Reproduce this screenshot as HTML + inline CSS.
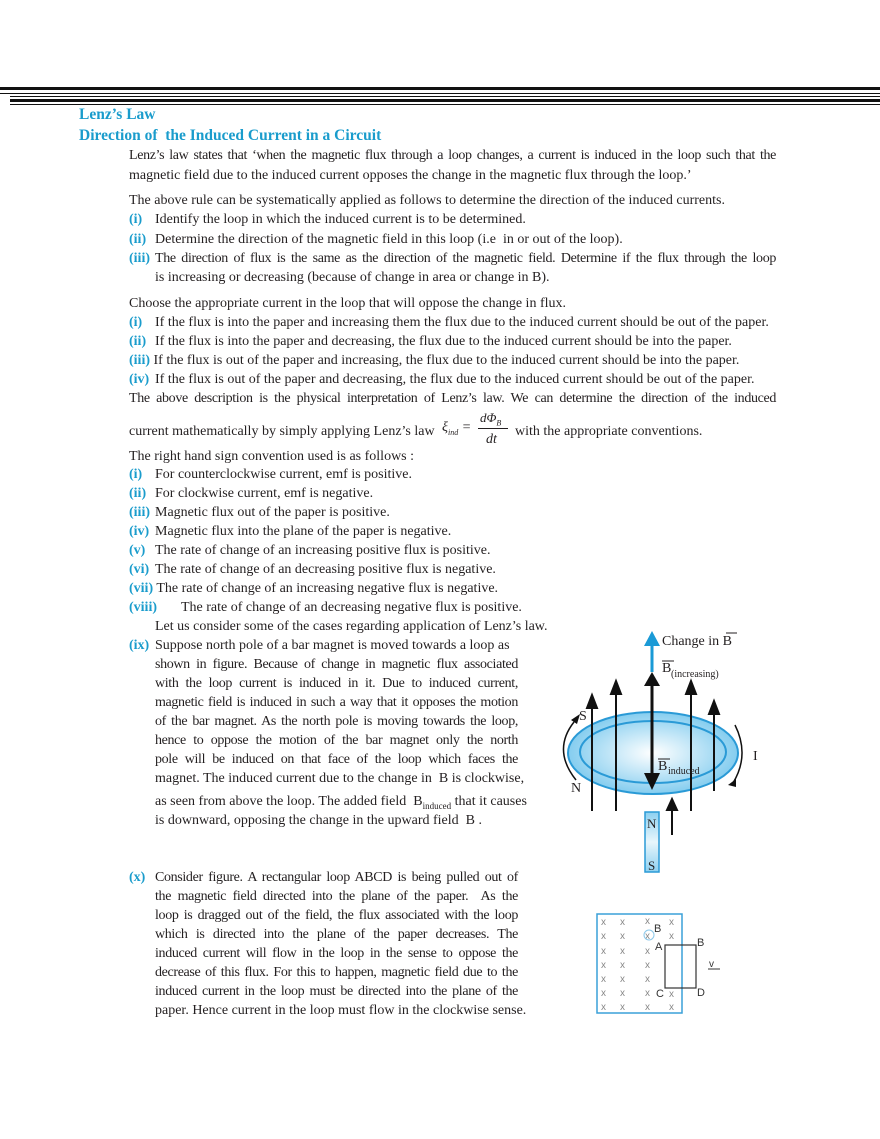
<!DOCTYPE html>
<html><head><meta charset="utf-8"><style>
body{margin:0;width:880px;height:1139px;background:#fff;position:relative;overflow:hidden;font-family:"Liberation Serif",serif;color:#231f20}
.l{position:absolute;font-size:14px;line-height:18px;white-space:nowrap}
.j{text-align:justify;text-align-last:justify;white-space:normal;letter-spacing:-0.35px;height:18px;overflow:visible}
.h{position:absolute;left:79px;font-size:15.5px;font-weight:bold;color:#1a9ccc;line-height:20px}
.n{color:#1a9ccc;font-weight:bold}
.bar{position:absolute;background:#111}
</style></head><body>
<div class="bar" style="left:0;top:87px;width:880px;height:3px"></div>
<div class="bar" style="left:0;top:93px;width:880px;height:1px"></div>
<div class="bar" style="left:10px;top:96px;width:870px;height:1px"></div>
<div class="bar" style="left:10px;top:99px;width:870px;height:3px"></div>
<div class="bar" style="left:10px;top:104px;width:870px;height:1px"></div>

<div class="h" style="top:105px">Lenz’s Law</div>
<div class="h" style="top:126px">Direction of&nbsp; the Induced Current in a Circuit</div>

<div class="l j" style="left:129px;top:147px;width:647px">Lenz’s law states that ‘when the magnetic flux through a loop changes, a current is induced in the loop such that the</div>
<div class="l" style="left:129px;top:167px">magnetic field due to the induced current opposes the change in the magnetic flux through the loop.’</div>
<div class="l" style="left:129px;top:192px">The above rule can be systematically applied as follows to determine the direction of the induced currents.</div>
<div class="l" style="left:129px;top:211px"><span class="n">(i)</span></div><div class="l" style="left:155px;top:211px">Identify the loop in which the induced current is to be determined.</div>
<div class="l" style="left:129px;top:231px"><span class="n">(ii)</span></div><div class="l" style="left:155px;top:231px">Determine the direction of the magnetic field in this loop (i.e&nbsp; in or out of the loop).</div>
<div class="l" style="left:129px;top:250px"><span class="n">(iii)</span></div><div class="l j" style="left:155px;top:250px;width:621px">The direction of flux is the same as the direction of the magnetic field. Determine if the flux through the loop</div>
<div class="l" style="left:155px;top:269px">is increasing or decreasing (because of change in area or change in B).</div>
<div class="l" style="left:129px;top:295px">Choose the appropriate current in the loop that will oppose the change in flux.</div>
<div class="l" style="left:129px;top:314px"><span class="n">(i)</span></div><div class="l" style="left:155px;top:314px">If the flux is into the paper and increasing them the flux due to the induced current should be out of the paper.</div>
<div class="l" style="left:129px;top:333px"><span class="n">(ii)</span></div><div class="l" style="left:155px;top:333px">If the flux is into the paper and decreasing, the flux due to the induced current should be into the paper.</div>
<div class="l" style="left:129px;top:352px"><span class="n">(iii)</span> If the flux is out of the paper and increasing, the flux due to the induced current should be into the paper.</div>
<div class="l" style="left:129px;top:371px"><span class="n">(iv)</span></div><div class="l" style="left:155px;top:371px">If the flux is out of the paper and decreasing, the flux due to the induced current should be out of the paper.</div>
<div class="l j" style="left:129px;top:390px;width:647px">The above description is the physical interpretation of Lenz’s law. We can determine the direction of the induced</div>
<div class="l" style="left:129px;top:423px">current mathematically by simply applying Lenz’s law</div>
<div class="l" style="left:442px;top:419px;font-style:italic">ξ<sub style="font-size:8px">ind</sub> =</div>
<div class="l" style="left:480px;top:409px;font-style:italic;font-size:13px">dΦ<sub style="font-size:8px">B</sub></div>
<div style="position:absolute;left:478px;top:428px;width:30px;height:1px;background:#231f20"></div>
<div class="l" style="left:486px;top:431px;font-style:italic">dt</div>
<div class="l" style="left:515px;top:423px">with the appropriate conventions.</div>
<div class="l" style="left:129px;top:448px">The right hand sign convention used is as follows :</div>
<div class="l" style="left:129px;top:466px"><span class="n">(i)</span></div><div class="l" style="left:155px;top:466px">For counterclockwise current, emf is positive.</div>
<div class="l" style="left:129px;top:485px"><span class="n">(ii)</span></div><div class="l" style="left:155px;top:485px">For clockwise current, emf is negative.</div>
<div class="l" style="left:129px;top:504px"><span class="n">(iii)</span></div><div class="l" style="left:155px;top:504px">Magnetic flux out of the paper is positive.</div>
<div class="l" style="left:129px;top:523px"><span class="n">(iv)</span></div><div class="l" style="left:155px;top:523px">Magnetic flux into the plane of the paper is negative.</div>
<div class="l" style="left:129px;top:542px"><span class="n">(v)</span></div><div class="l" style="left:155px;top:542px">The rate of change of an increasing positive flux is positive.</div>
<div class="l" style="left:129px;top:561px"><span class="n">(vi)</span></div><div class="l" style="left:155px;top:561px">The rate of change of an decreasing positive flux is negative.</div>
<div class="l" style="left:129px;top:580px"><span class="n">(vii)</span> The rate of change of an increasing negative flux is negative.</div>
<div class="l" style="left:129px;top:599px"><span class="n">(viii)</span></div><div class="l" style="left:181px;top:599px">The rate of change of an decreasing negative flux is positive.</div>
<div class="l" style="left:155px;top:618px">Let us consider some of the cases regarding application of Lenz’s law.</div>
<div class="l" style="left:129px;top:637px"><span class="n">(ix)</span></div>
<div class="l" style="left:155px;top:637px">Suppose north pole of a bar magnet is moved towards a loop as</div>
<div class="l j" style="left:155px;top:656px;width:363px">shown in figure. Because of change in magnetic flux associated</div>
<div class="l j" style="left:155px;top:675px;width:363px">with the loop current is induced in it. Due to induced current,</div>
<div class="l j" style="left:155px;top:694px;width:363px">magnetic field is induced in such a way that it opposes the motion</div>
<div class="l j" style="left:155px;top:713px;width:363px">of the bar magnet. As the north pole is moving towards the loop,</div>
<div class="l j" style="left:155px;top:732px;width:363px">hence to oppose the motion of the bar magnet only the north</div>
<div class="l j" style="left:155px;top:751px;width:363px">pole will be induced on that face of the loop which faces the</div>
<div class="l" style="left:155px;top:770px">magnet. The induced current due to the change in&nbsp; B is clockwise,</div>
<div class="l" style="left:155px;top:793px">as seen from above the loop. The added field&nbsp; B<sub style="font-size:9px">induced</sub> that it causes</div>
<div class="l" style="left:155px;top:812px">is downward, opposing the change in the upward field&nbsp; B .</div>

<div class="l" style="left:129px;top:869px"><span class="n">(x)</span></div>
<div class="l j" style="left:155px;top:869px;width:363px">Consider figure. A rectangular loop ABCD is being pulled out of</div>
<div class="l j" style="left:155px;top:888px;width:363px">the magnetic field directed into the plane of the paper.&nbsp; As the</div>
<div class="l j" style="left:155px;top:907px;width:363px">loop is dragged out of the field, the flux associated with the loop</div>
<div class="l j" style="left:155px;top:926px;width:363px">which is directed into the plane of the paper decreases. The</div>
<div class="l j" style="left:155px;top:945px;width:363px">induced current will flow in the loop in the sense to oppose the</div>
<div class="l j" style="left:155px;top:964px;width:363px">decrease of this flux. For this to happen, magnetic field due to the</div>
<div class="l j" style="left:155px;top:983px;width:363px">induced current in the loop must be directed into the plane of the</div>
<div class="l" style="left:155px;top:1002px">paper. Hence current in the loop must flow in the clockwise sense.</div>

<svg style="position:absolute;left:0;top:0" width="880" height="1139">
<defs>
<radialGradient id="g" cx="0.5" cy="0.5" r="0.6"><stop offset="0" stop-color="#fff"/><stop offset="1" stop-color="#6cc3ec"/></radialGradient>
<linearGradient id="m" x1="0" y1="0" x2="0" y2="1"><stop offset="0" stop-color="#8dd0f0"/><stop offset="0.5" stop-color="#e8f6fc"/><stop offset="1" stop-color="#8dd0f0"/></linearGradient>
</defs>
<ellipse cx="653" cy="753" rx="85" ry="41" fill="url(#g)" stroke="#2a9ad6" stroke-width="2"/>
<ellipse cx="653" cy="752" rx="73" ry="31" fill="none" stroke="#2a9ad6" stroke-width="2"/>
<g stroke="#111" stroke-width="2" fill="#111">
<line x1="592" y1="811" x2="592" y2="706"/><polygon points="587,708 597,708 592,695"/>
<line x1="616" y1="811" x2="616" y2="692"/><polygon points="611,694 621,694 616,681"/>
<line x1="691" y1="811" x2="691" y2="692"/><polygon points="686,694 696,694 691,681"/>
<line x1="714" y1="791" x2="714" y2="712"/><polygon points="709,714 719,714 714,701"/>
<line x1="672" y1="835" x2="672" y2="808"/><polygon points="667,810 677,810 672,799"/>
</g>
<line x1="652" y1="645" x2="652" y2="672" stroke="#1a9ad6" stroke-width="3"/>
<polygon points="644,646 660,646 652,631" fill="#1a9ad6"/>
<line x1="652" y1="680" x2="652" y2="780" stroke="#111" stroke-width="3"/>
<polygon points="644,686 660,686 652,672" fill="#111"/>
<polygon points="644,773 660,773 652,790" fill="#111"/>
<path d="M576,780 Q552,750 574,722" fill="none" stroke="#111" stroke-width="1.5"/>
<polygon points="571,720 580,714 577,724" fill="#111"/>
<path d="M735,725 Q750,755 733,783" fill="none" stroke="#111" stroke-width="1.5"/>
<polygon points="728,785 736,779 736,787" fill="#111"/>
<rect x="645" y="812" width="14" height="60" fill="url(#m)" stroke="#2a9ad6" stroke-width="1.5"/>
<g font-family="Liberation Serif,serif" fill="#231f20">
<text x="662" y="645" font-size="14">Change in B</text>
<line x1="726" y1="633" x2="737" y2="633" stroke="#231f20"/>
<text x="662" y="672" font-size="14">B</text><text x="671" y="677" font-size="10">(increasing)</text>
<line x1="662" y1="661" x2="674" y2="661" stroke="#231f20"/>
<text x="658" y="770" font-size="14">B</text><text x="668" y="774" font-size="10">induced</text>
<line x1="658" y1="759" x2="670" y2="759" stroke="#231f20"/>
<text x="579" y="720" font-size="14">S</text>
<text x="571" y="792" font-size="14">N</text>
<text x="753" y="760" font-size="14">I</text>
<text x="647" y="828" font-size="13">N</text>
<text x="648" y="870" font-size="13">S</text>
</g>
<rect x="597" y="914" width="85" height="99" fill="none" stroke="#3aa0d8" stroke-width="1.5"/>
<g font-family="Liberation Sans,sans-serif" font-size="10" fill="#888">
<text x="601" y="925">x</text><text x="620" y="925">x</text><text x="645" y="924">x</text><text x="669" y="925">x</text>
<text x="601" y="939">x</text><text x="620" y="939">x</text><text x="645" y="939">x</text><text x="669" y="939">x</text>
<text x="601" y="954">x</text><text x="620" y="954">x</text><text x="645" y="954">x</text>
<text x="601" y="968">x</text><text x="620" y="968">x</text><text x="645" y="968">x</text>
<text x="601" y="982">x</text><text x="620" y="982">x</text><text x="645" y="982">x</text>
<text x="601" y="996">x</text><text x="620" y="996">x</text><text x="645" y="996">x</text><text x="669" y="997">x</text>
<text x="601" y="1010">x</text><text x="620" y="1010">x</text><text x="645" y="1010">x</text><text x="669" y="1010">x</text>
</g>
<circle cx="649" cy="935" r="5" fill="none" stroke="#8cc8ea"/>
<rect x="665" y="945" width="31" height="43" fill="none" stroke="#333" stroke-width="1.2"/>
<g font-family="Liberation Sans,sans-serif" font-size="11" fill="#333">
<text x="654" y="932">B</text><text x="655" y="950">A</text><text x="697" y="946">B</text>
<text x="656" y="997">C</text><text x="697" y="996">D</text><text x="709" y="967" font-size="10">v</text>
</g>
<line x1="708" y1="969" x2="720" y2="969" stroke="#333"/>
</svg>
</body></html>
